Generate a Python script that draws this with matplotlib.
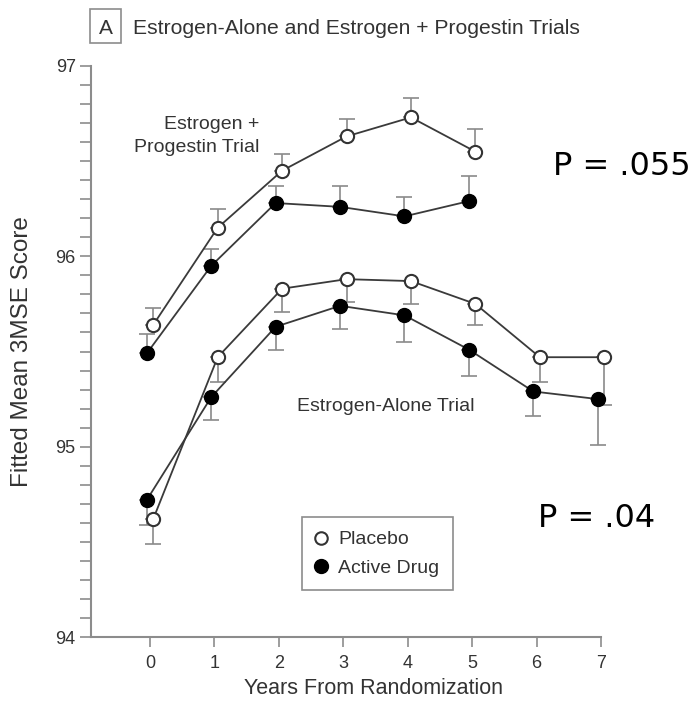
import numpy as np
import matplotlib.pyplot as plt
from matplotlib.lines import Line2D
from matplotlib.patches import Rectangle
from matplotlib.ticker import MultipleLocator

# Estrogen + Progestin trial
years_ep = [0, 1, 2, 3, 4, 5]
ep_placebo = [95.64, 96.15, 96.45, 96.63, 96.73, 96.55]
ep_placebo_err = [0.09, 0.10, 0.09, 0.09, 0.10, 0.12]
ep_active = [95.49, 95.95, 96.28, 96.26, 96.21, 96.29]
ep_active_err = [0.10, 0.09, 0.09, 0.11, 0.10, 0.13]

# Estrogen-alone trial
years_ea = [0, 1, 2, 3, 4, 5, 6, 7]
ea_placebo = [94.62, 95.47, 95.83, 95.88, 95.87, 95.75, 95.47, 95.47]
ea_placebo_err = [0.13, 0.13, 0.12, 0.12, 0.12, 0.11, 0.13, 0.25]
ea_active = [94.72, 95.26, 95.63, 95.74, 95.69, 95.51, 95.29, 95.25]
ea_active_err = [0.13, 0.12, 0.12, 0.12, 0.14, 0.14, 0.13, 0.24]

LINE = '#3a3a3a'
ERR = '#8a8a8a'
AXC = '#8c8c8c'
TXT = '#333333'
DODGE = 0.05

plt.rcParams['font.family'] = ['Liberation Sans', 'DejaVu Sans']

fig = plt.figure(figsize=(6.92, 7.08), dpi=100)
ax = fig.add_axes([91 / 692, 1 - 637 / 708, 510 / 692, 571 / 708])


def draw(years, vals, errs, filled, up):
    x = np.array(years) + (-DODGE if filled else DODGE)
    zeros = np.zeros(len(errs))
    yerr = [zeros, errs] if up else [errs, zeros]
    eb = ax.errorbar(x, vals, yerr=yerr, fmt='none', ecolor=ERR, elinewidth=1.2,
                     capsize=6, capthick=1.2, zorder=1)
    for art in eb.get_children():
        art.set_clip_on(False)
    if filled:
        ax.plot(x, vals, color=LINE, lw=1.3, marker='o', ms=10,
                mfc='black', mec='black', zorder=2, clip_on=False)
    else:
        ax.plot(x, vals, color=LINE, lw=1.3, marker='o', ms=9.5,
                mfc='white', mec='#333333', mew=1.5, zorder=3, clip_on=False)


draw(years_ep, ep_placebo, ep_placebo_err, False, True)
draw(years_ep, ep_active, ep_active_err, True, True)
draw(years_ea, ea_placebo, ea_placebo_err, False, False)
draw(years_ea, ea_active, ea_active_err, True, False)

ax.set_xlim(-0.916, 7.0)
ax.set_ylim(94, 97)
ax.set_xticks(range(0, 8))
ax.set_yticks([94, 95, 96, 97])
ax.yaxis.set_minor_locator(MultipleLocator(0.1))

for s in ['top', 'right']:
    ax.spines[s].set_visible(False)
for s in ['left', 'bottom']:
    ax.spines[s].set_color(AXC)
    ax.spines[s].set_linewidth(1.5)

ax.tick_params(axis='y', which='both', direction='out', length=8, width=1.2,
               color=AXC, labelsize=13, labelcolor=TXT, pad=3)
ax.tick_params(axis='x', direction='out', length=7, width=1.2,
               color=AXC, labelsize=13, labelcolor=TXT, pad=6)

ax.set_xlabel('Years From Randomization', fontsize=15.5, color=TXT)
ax.set_ylabel('Fitted Mean 3MSE Score', fontsize=17.5, color=TXT)
ax.xaxis.set_label_coords(0.553, -0.072)
ax.yaxis.set_label_coords(-0.114, 0.5)

ax.text(1.69, 96.63, 'Estrogen +\nProgestin Trial', ha='right', va='center',
        multialignment='right', fontsize=14, color=TXT, linespacing=1.45)
ax.text(2.28, 95.21, 'Estrogen-Alone Trial', ha='left', va='center',
        fontsize=14, color=TXT)

handles = [
    Line2D([], [], ls='none', marker='o', ms=9, mfc='white', mec='#333333', mew=1.5),
    Line2D([], [], ls='none', marker='o', ms=10, mfc='black', mec='black'),
]
leg = ax.legend(handles, ['Placebo', 'Active Drug'], loc='upper left',
                bbox_to_anchor=(0.414, 0.210), borderaxespad=0, fontsize=14,
                frameon=True, fancybox=False, framealpha=1, edgecolor=AXC,
                handlelength=0.5, handletextpad=0.65, borderpad=0.7,
                labelspacing=0.55)
leg.get_frame().set_linewidth(1.2)
for t in leg.get_texts():
    t.set_color(TXT)

# panel title
fig.add_artist(Rectangle((90 / 692, 1 - 43 / 708), 31 / 692, 34 / 708,
                         transform=fig.transFigure, fill=False, ec=AXC, lw=1.2))
fig.text(106 / 692, 1 - 34 / 708, 'A', ha='center', va='baseline',
         fontsize=15, color=TXT)
fig.text(133 / 692, 1 - 34 / 708, 'Estrogen-Alone and Estrogen + Progestin Trials',
         ha='left', va='baseline', fontsize=15.2, color=TXT)

# p-values
fig.text(553 / 692, 1 - 175 / 708, 'P = .055', family='DejaVu Sans',
         fontsize=23, color='black', va='baseline')
fig.text(538 / 692, 1 - 527 / 708, 'P = .04', family='DejaVu Sans',
         fontsize=23, color='black', va='baseline')

fig.savefig('out.png', dpi=100)
